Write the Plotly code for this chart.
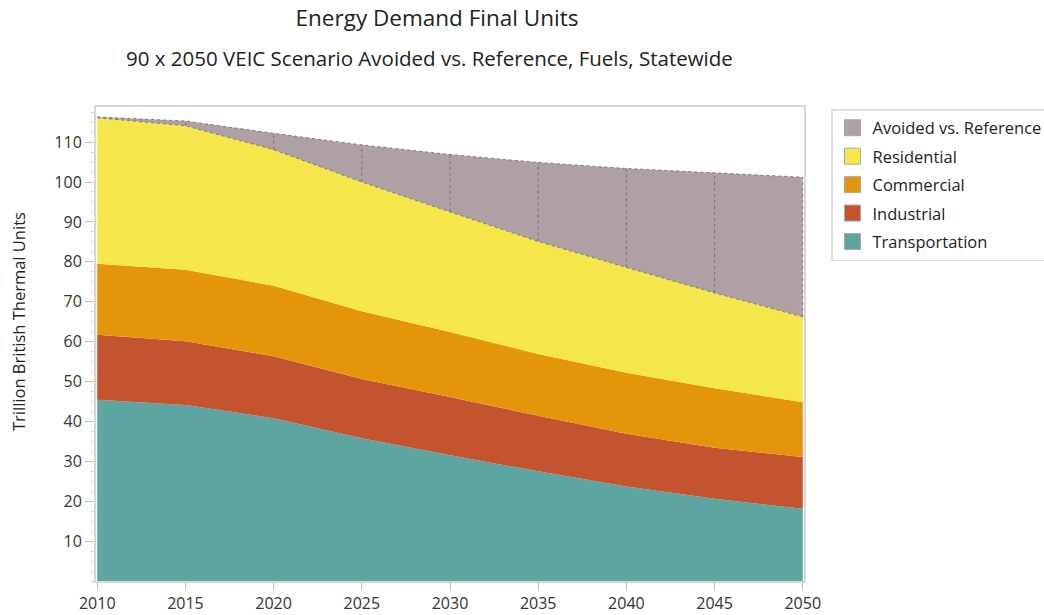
import plotly.graph_objects as go

years = [2010, 2015, 2020, 2025, 2030, 2035, 2040, 2045, 2050]
transportation = [45.4, 44.1, 40.8, 35.8, 31.5, 27.5, 23.7, 20.6, 18.1]
industrial = [16.3, 16.0, 15.5, 14.8, 14.6, 13.9, 13.2, 12.8, 13.0]
commercial = [17.8, 17.9, 17.7, 17.0, 16.3, 15.5, 15.3, 14.9, 13.7]
residential = [36.6, 36.1, 34.1, 32.4, 30.1, 28.2, 26.4, 23.9, 21.4]
avoided = [0.2, 1.2, 4.1, 9.3, 14.4, 19.8, 24.8, 30.1, 35.0]

y_ticks = [10, 20, 30, 40, 50, 60, 70, 80, 90, 100, 110]
x_ticks = [2010, 2015, 2020, 2025, 2030, 2035, 2040, 2045, 2050]

series = [
    ("Transportation", transportation, "#5CA5A0"),
    ("Industrial", industrial, "#C4532F"),
    ("Commercial", commercial, "#E5950A"),
    ("Residential", residential, "#F5E64A"),
    ("Avoided vs. Reference", avoided, "#AEA0A5"),
]

FONT = "Open Sans"
fig = go.Figure()

for name, vals, col in series:
    fig.add_trace(go.Scatter(
        x=years, y=vals, name=name, stackgroup="one", mode="lines",
        line=dict(width=0, color=col), fillcolor=col, showlegend=False,
        hoverinfo="x+y+name",
    ))

# dotted outline of the avoided region (derived from data)
res_top = [t + i + c + r for t, i, c, r in zip(transportation, industrial, commercial, residential)]
ref_top = [a + b for a, b in zip(res_top, avoided)]
vx, vy = [], []
for xv, lo, hi in zip(years[1:], res_top[1:], ref_top[1:]):
    vx += [xv, xv, None]
    vy += [lo, hi, None]
outline = dict(color="rgba(110,100,105,0.8)", width=1, dash="dot")
fig.add_trace(go.Scatter(x=vx, y=vy, mode="lines", line=outline, showlegend=False, hoverinfo="skip"))
fig.add_trace(go.Scatter(x=years, y=ref_top, mode="lines", line=outline, showlegend=False, hoverinfo="skip"))
fig.add_trace(go.Scatter(x=years, y=res_top, mode="lines", line=outline, showlegend=False, hoverinfo="skip"))

# legend entries (top to bottom)
for i, (name, vals, col) in enumerate(reversed(series)):
    fig.add_trace(go.Scatter(
        x=[None], y=[None], mode="markers", name=name,
        marker=dict(symbol="square", size=16, color=col, line=dict(color="#a8a8a8", width=1)),
        legendgroup=name, legendrank=i + 1,
    ))

axis_common = dict(
    showline=True, linecolor="#d6d6d6", linewidth=2, mirror=True, automargin=False,
    showgrid=False, zeroline=False, ticks="outside", tickcolor="#bdbdbd",
    tickfont=dict(family=FONT, size=16, color="#333333"),
)

W, H = 1060, 615
L, T, R, B = 96, 107, 804, 581
PW, PH = R - L, B - T

fig.update_layout(
    width=W, height=H,
    margin=dict(l=L, r=W - R, t=T, b=H - B),
    paper_bgcolor="white", plot_bgcolor="white",
    font=dict(family=FONT, color="#222222"),
    title=dict(text="Energy Demand Final Units", x=437 / W, xanchor="center",
               y=1 - 18 / H, yanchor="middle", yref="container",
               font=dict(family=FONT, size=22.5, color="#222222")),
    xaxis=dict(range=[2009.93, 2050.07], tickvals=x_ticks, ticklen=7, **axis_common),
    yaxis=dict(range=[0, 118.8], tickvals=y_ticks, ticklen=9,
               minor=dict(dtick=2.5, tick0=0, ticks="outside", ticklen=3, tickcolor="#d0d0d0"),
               **axis_common),
    showlegend=True,
    legend=dict(xref="container", yref="container", x=831 / W, y=1 - 109 / H,
                xanchor="left", yanchor="top",
                bordercolor="#dcdcdc", borderwidth=1.5, bgcolor="white",
                font=dict(family=FONT, size=16.5, color="#222222"),
                tracegroupgap=4, traceorder="grouped"),
    annotations=[
        dict(text="90 x 2050 VEIC Scenario Avoided vs. Reference, Fuels, Statewide",
             xref="paper", yref="paper", x=(429 - L) / PW, y=1 + (T - 58) / PH,
             xanchor="center", yanchor="middle", showarrow=False,
             font=dict(family=FONT, size=20.5, color="#222222")),
        dict(text="Trillion British Thermal Units", textangle=-90,
             xref="paper", yref="paper", x=(18 - L) / PW, y=(B - 322) / PH,
             xanchor="center", yanchor="middle", showarrow=False,
             font=dict(family=FONT, size=16.5, color="#222222")),
    ],
)

fig.write_html(
    "out.html",
    config={"displayModeBar": False},
    post_script="document.body.style.margin='0';document.documentElement.style.overflow='hidden';document.body.style.overflow='hidden';",
)
